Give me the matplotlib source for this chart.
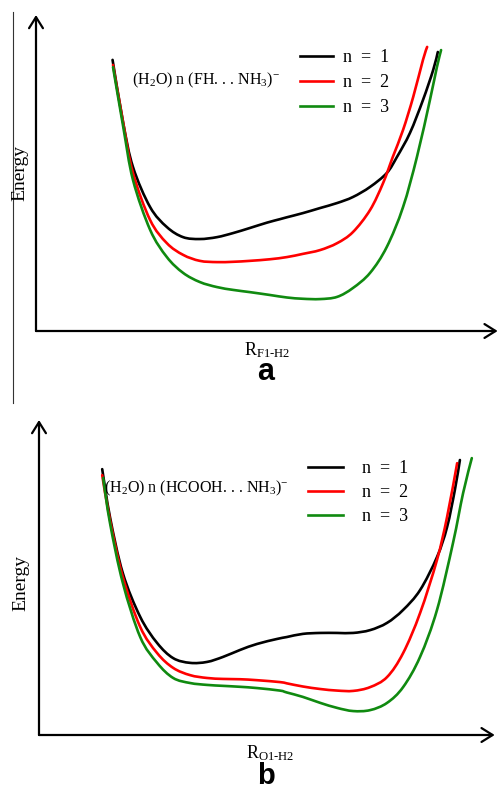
import matplotlib
matplotlib.use('Agg')
import matplotlib.pyplot as plt
from matplotlib.path import Path
from matplotlib.patches import PathPatch
from matplotlib.lines import Line2D

plt.rcParams['font.family'] = ['Liberation Serif', 'DejaVu Serif']
plt.rcParams['mathtext.fontset'] = 'custom'
plt.rcParams['mathtext.rm'] = 'Liberation Serif'
plt.rcParams['mathtext.it'] = 'Liberation Serif:italic'

# ---- panel a : (H2O)n(FH...NH3)-  (arbitrary units, 0-100)
ra_1 = [16.5, 18.8, 20.9, 24.6, 28.2, 31.7, 35.3, 39.0, 42.5, 46.1, 49.8, 52.6, 54.1, 57.5,
        61.2, 64.9, 68.3, 72.0, 75.6, 77.8, 80.6, 83.4, 85.6, 86.6]
ea_1 = [85.8, 65.8, 51.9, 39.2, 32.9, 29.7, 29.1, 29.7, 31.0, 32.6, 34.3, 35.4, 36.0, 37.3,
        38.9, 40.5, 42.4, 45.6, 50.0, 55.1, 62.7, 73.1, 82.6, 88.3]
ra_2 = [16.6, 18.8, 20.9, 24.6, 28.2, 31.7, 35.3, 39.0, 42.5, 46.1, 50.4, 54.1, 57.5, 61.2,
        64.9, 68.3, 72.0, 74.8, 76.9, 79.1, 81.3, 83.4, 84.3]
ea_2 = [84.2, 65.8, 50.0, 35.1, 27.8, 24.1, 22.2, 21.8, 21.9, 22.2, 22.7, 23.4, 24.4, 25.6,
        27.8, 31.3, 38.3, 46.8, 55.1, 63.6, 74.1, 85.8, 89.9]
ra_3 = [16.6, 18.8, 20.9, 24.6, 28.2, 31.7, 35.3, 39.0, 42.5, 46.1, 50.4, 54.1, 57.5, 61.2,
        64.9, 68.3, 72.0, 75.6, 79.1, 82.1, 84.9, 86.4, 87.3]
ea_3 = [83.5, 64.6, 47.8, 32.0, 23.4, 18.4, 15.5, 13.9, 13.0, 12.3, 11.4, 10.6, 10.2, 10.1,
        10.8, 13.6, 18.4, 26.6, 39.2, 55.1, 73.1, 83.5, 88.9]

# ---- panel b : (H2O)n(HCOOH...NH3)-
rb_1 = [13.8, 15.5, 18.3, 22.1, 25.8, 29.3, 33.0, 36.7, 40.2, 43.9, 47.6, 52.0, 54.1, 57.6,
        61.4, 65.1, 68.6, 72.3, 76.0, 79.5, 83.2, 86.9, 89.1, 90.8, 91.9]
eb_1 = [84.4, 69.2, 51.4, 37.5, 29.2, 24.4, 22.9, 23.2, 24.8, 27.0, 28.9, 30.5, 31.1, 32.1,
        32.4, 32.4, 32.4, 33.3, 35.6, 39.7, 46.0, 56.5, 66.0, 77.8, 87.3]
rb_2 = [13.8, 15.5, 18.3, 22.1, 25.8, 29.3, 33.0, 36.7, 40.2, 43.9, 47.6, 52.6, 54.1, 57.6,
        61.4, 65.1, 68.6, 72.3, 76.0, 79.5, 83.2, 86.9, 89.1, 91.3]
eb_2 = [82.5, 68.3, 50.2, 34.3, 26.0, 21.3, 19.0, 18.1, 17.8, 17.7, 17.4, 16.8, 16.4, 15.4,
        14.6, 14.1, 14.0, 15.2, 18.4, 26.0, 38.7, 55.6, 69.2, 86.3]
rb_3 = [14.0, 15.5, 18.3, 22.1, 25.8, 29.3, 33.0, 36.7, 40.2, 43.9, 47.6, 52.6, 54.1, 57.6,
        61.4, 65.1, 68.6, 72.3, 76.0, 79.5, 83.2, 86.9, 90.4, 92.6, 94.5]
eb_3 = [81.6, 67.3, 48.3, 31.1, 22.9, 18.1, 16.5, 15.9, 15.6, 15.3, 14.9, 14.1, 13.5, 12.1,
        10.2, 8.6, 7.6, 7.9, 10.2, 15.2, 24.8, 39.7, 61.0, 76.8, 87.9]

labels = ['n  =  1', 'n  =  2', 'n  =  3']
colors = ['black', '#ff0000', '#108a10']

W, H = 500, 792
fig = plt.figure(figsize=(W / 100, H / 100), dpi=100)


def px_axes(left, top, right, bottom):
    return fig.add_axes([left / W, 1 - bottom / H, (right - left) / W, (bottom - top) / H])


def draw_axes(ax):
    ax.set_xlim(0, 100)
    ax.set_ylim(0, 100)
    ax.axis('off')
    arrow = dict(arrowstyle='->,head_length=0.4,head_width=0.25', lw=1.6, color='black',
                 mutation_scale=20, shrinkA=0, shrinkB=0)
    ax.annotate('', xy=(0, 1), xytext=(0, 0), xycoords='axes fraction',
                arrowprops=arrow, annotation_clip=False)
    ax.annotate('', xy=(0.995, 0), xytext=(0, 0), xycoords='axes fraction',
                arrowprops=arrow, annotation_clip=False)


def smooth_path(x, y):
    # cubic bezier through the read points (Catmull-Rom tangents)
    n = len(x)
    verts = [(x[0], y[0])]
    codes = [Path.MOVETO]
    for i in range(n - 1):
        x0, y0 = (x[i - 1], y[i - 1]) if i > 0 else (x[i], y[i])
        x3, y3 = (x[i + 2], y[i + 2]) if i + 2 < n else (x[i + 1], y[i + 1])
        c1 = (x[i] + (x[i + 1] - x0) / 6, y[i] + (y[i + 1] - y0) / 6)
        c2 = (x[i + 1] - (x3 - x[i]) / 6, y[i + 1] - (y3 - y[i]) / 6)
        verts += [c1, c2, (x[i + 1], y[i + 1])]
        codes += [Path.CURVE4] * 3
    return Path(verts, codes)


def draw_curves(ax, xs, ys):
    for x, y, c in zip(xs, ys, colors):
        ax.add_patch(PathPatch(smooth_path(x, y), fill=False, edgecolor=c, lw=1.9,
                               capstyle='round', joinstyle='round'))
    return [Line2D([], [], color=c, lw=1.9) for c in colors]


# panel a
ax1 = px_axes(36, 15, 500, 331)
draw_axes(ax1)
h1 = draw_curves(ax1, [ra_1, ra_2, ra_3], [ea_1, ea_2, ea_3])
ax1.legend(h1, labels, loc='upper left', bbox_to_anchor=((300 - 36) / 464, (331 - 49) / 316),
           frameon=False, fontsize=13, handlelength=1.85, handletextpad=0.55,
           labelspacing=0.45, borderpad=0, borderaxespad=0)
fig.text(132 / W, 1 - 80 / H, r'(H$_2$O) n (FH. . . NH$_3$)$^{-}$', fontsize=11.5,
         ha='left', va='center')

# panel b
ax2 = px_axes(39, 420, 497, 735)
draw_axes(ax2)
h2 = draw_curves(ax2, [rb_1, rb_2, rb_3], [eb_1, eb_2, eb_3])
ax2.legend(h2, labels, loc='upper left', bbox_to_anchor=((308 - 39) / 458, (735 - 460) / 315),
           frameon=False, fontsize=13, handlelength=1.95, handletextpad=1.05,
           labelspacing=0.4, borderpad=0, borderaxespad=0)
fig.text(104 / W, 1 - 488 / H, r'(H$_2$O) n (HCOOH. . . NH$_3$)$^{-}$', fontsize=11.5,
         ha='left', va='center')

# axis labels
fig.text(20 / W, 1 - 173 / H, 'Energy', rotation=90, fontsize=14, ha='center', va='center')
fig.text(21 / W, 1 - 583 / H, 'Energy', rotation=90, fontsize=14, ha='center', va='center')
fig.text(267 / W, 1 - 350 / H, r'R$_{\mathrm{F1\text{-}H2}}$', fontsize=13,
         ha='center', va='center')
fig.text(270 / W, 1 - 753 / H, r'R$_{\mathrm{O1\text{-}H2}}$', fontsize=13,
         ha='center', va='center')

# panel letters
fig.text(266 / W, 1 - 372 / H, 'a', fontsize=22, fontweight='bold',
         family='Liberation Sans', ha='center', va='center')
fig.text(266 / W, 1 - 790 / H, 'b', fontsize=21, fontweight='bold',
         family='Liberation Sans', ha='center', va='bottom')

# thin separator line at the left of panel a
fig.add_artist(plt.Line2D([12.5 / W, 12.5 / W], [1 - 12 / H, 1 - 403 / H],
                          color='#333333', lw=0.8))

fig.savefig('out.png', dpi=100, facecolor='white')
